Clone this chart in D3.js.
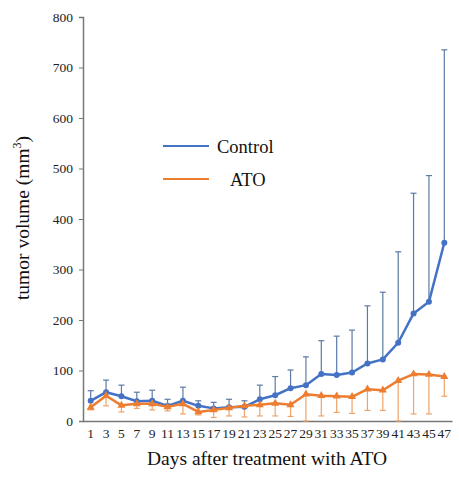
<!DOCTYPE html>
<html><head><meta charset="utf-8">
<script src="https://cdn.jsdelivr.net/npm/d3@7"></script>
<style>html,body{margin:0;padding:0;background:#fff;}svg{display:block;}</style>
</head><body>
<script>
const days = [1,3,5,7,9,11,13,15,17,19,21,23,25,27,29,31,33,35,37,39,41,43,45,47];
const controlMean = [40,57,49,39,40,30,40,30,25,27,28,43,51,65,71,93,91,96,114,122,155,213,236,353];
const controlUpper = [60,81,71,57,61,43,67,40,37,43,40,71,88,101,127,159,168,180,228,255,335,451,486,735];
const atoMean = [27,50,31,34,34,28,34,18,22,26,30,32,35,32,53,50,49,48,63,61,80,93,92,88];
const atoLower = [22,30,18,25,22,20,14,12,7,10,8,10,10,9,0,10,17,15,21,21,0,14,14,49];
const yTicks = [0,100,200,300,400,500,600,700,800];
const seriesNames = ["Control","ATO"];

(function () {
const W = 459, H = 477;
const mLeft = 83, mRight = 452, mTop = 17, mBottom = 421;
const font = "Liberation Serif, Times New Roman, serif";
const blue = "#4472C4", orange = "#ED7D31";

const svg = d3.select("body").append("svg").attr("width", W).attr("height", H)
  .style("font-family", font);

const x = d3.scaleBand().domain(days).range([mLeft, mRight]).padding(0);
const y = d3.scaleLinear().domain([0, 800]).range([mBottom, mTop]);
const cx = d => x(d) + x.bandwidth() / 2;

// y axis
const yAxis = svg.append("g").attr("transform", `translate(${mLeft},0)`)
  .call(d3.axisLeft(y).tickValues(yTicks).tickSize(4).tickPadding(6))
  .attr("font-family", font).attr("font-size", 13.5);
yAxis.select(".domain").attr("stroke", "#777").attr("stroke-width", 1.5);
yAxis.selectAll(".tick line").attr("stroke", "#777");
yAxis.selectAll("text").style("font-family", font).attr("font-size", 13.5).attr("fill", "#222");

// x axis
const xAxis = svg.append("g").attr("transform", `translate(0,${mBottom})`)
  .call(d3.axisBottom(x).tickSize(0).tickPadding(7))
  .attr("font-family", font).attr("font-size", 13.5);
xAxis.select(".domain").attr("stroke", "#777").attr("stroke-width", 1.5);
xAxis.selectAll("text").style("font-family", font).attr("font-size", 13.5).attr("fill", "#222");

// error bars
const cap = 3;
const eb = svg.append("g");
days.forEach((d, i) => {
  const xc = cx(d);
  eb.append("line").attr("x1", xc).attr("x2", xc).attr("y1", y(controlMean[i])).attr("y2", y(controlUpper[i]))
    .attr("stroke", "#5b7aa6").attr("stroke-width", 1.2);
  eb.append("line").attr("x1", xc - cap).attr("x2", xc + cap).attr("y1", y(controlUpper[i])).attr("y2", y(controlUpper[i]))
    .attr("stroke", "#5b7aa6").attr("stroke-width", 1.2);
  eb.append("line").attr("x1", xc).attr("x2", xc).attr("y1", y(atoMean[i])).attr("y2", y(atoLower[i]))
    .attr("stroke", "#eda46a").attr("stroke-width", 1.2);
  eb.append("line").attr("x1", xc - cap).attr("x2", xc + cap).attr("y1", y(atoLower[i])).attr("y2", y(atoLower[i]))
    .attr("stroke", "#eda46a").attr("stroke-width", 1.2);
});

const line = d3.line().x((v, i) => cx(days[i])).y(v => y(v));

svg.append("path").datum(controlMean).attr("d", line).attr("fill", "none").attr("stroke", blue).attr("stroke-width", 2.5).attr("stroke-linejoin", "round");
svg.append("g").selectAll("circle").data(controlMean).join("circle")
  .attr("cx", (v, i) => cx(days[i])).attr("cy", v => y(v)).attr("r", 3).attr("fill", blue);

svg.append("path").datum(atoMean).attr("d", line).attr("fill", "none").attr("stroke", orange).attr("stroke-width", 2.5).attr("stroke-linejoin", "round");
const tri = d3.symbol().type(d3.symbolTriangle).size(28);
svg.append("g").selectAll("path").data(atoMean).join("path")
  .attr("d", tri).attr("transform", (v, i) => `translate(${cx(days[i])},${y(v)})`).attr("fill", orange);

// legend
const lg = svg.append("g");
lg.append("line").attr("x1", 163).attr("x2", 209).attr("y1", 146).attr("y2", 146).attr("stroke", blue).attr("stroke-width", 2);
lg.append("text").attr("x", 217).attr("y", 147).attr("dy", "0.35em").text(seriesNames[0])
  .attr("font-size", 18.5).attr("fill", "#111");
lg.append("line").attr("x1", 163).attr("x2", 209).attr("y1", 179).attr("y2", 179).attr("stroke", orange).attr("stroke-width", 2);
lg.append("text").attr("x", 230).attr("y", 180).attr("dy", "0.35em").text(seriesNames[1])
  .attr("font-size", 18.5).attr("fill", "#111");

// axis titles
svg.append("text").attr("x", 267).attr("y", 465).attr("text-anchor", "middle").text("Days after treatment with ATO")
  .attr("font-size", 19.5).attr("fill", "#111");
const yt = svg.append("text").attr("transform", "translate(29,218) rotate(-90)").attr("text-anchor", "middle")
  .attr("font-size", 19.5).attr("fill", "#111");
yt.append("tspan").text("tumor volume (mm");
yt.append("tspan").text("3").attr("font-size", 12).attr("dy", -8);
yt.append("tspan").text(")").attr("dy", 8);
})();
</script>
</body></html>
